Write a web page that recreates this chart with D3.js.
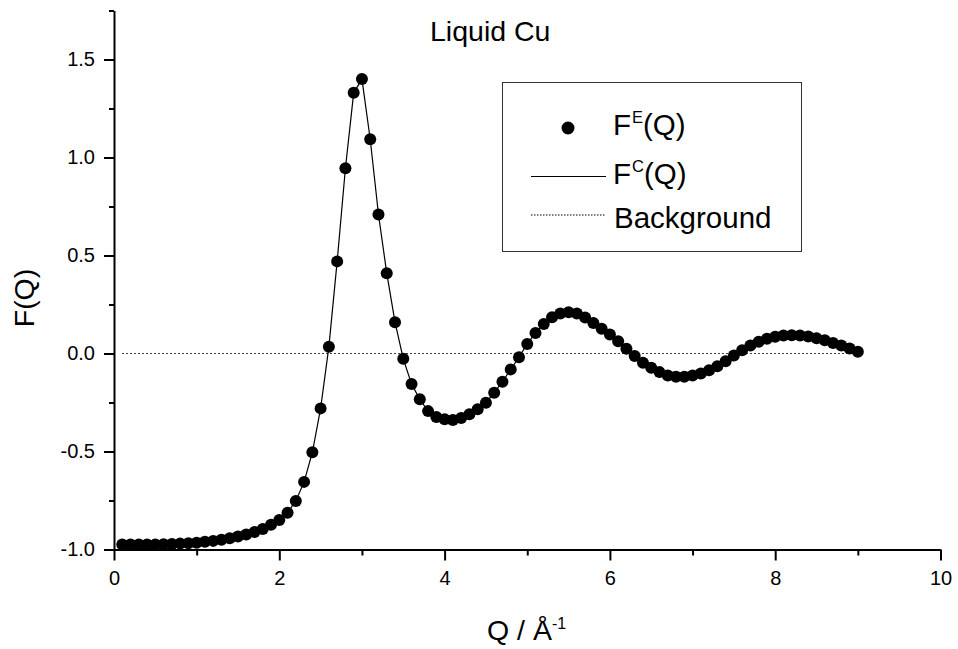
<!DOCTYPE html>
<html>
<head>
<meta charset="utf-8">
<script src="https://cdn.jsdelivr.net/npm/d3@7"></script>
<style>
  html, body { margin: 0; padding: 0; background: #fff; }
  svg { display: block; }
  text { font-family: "Liberation Sans", Arial, Helvetica, sans-serif; fill: #000; }
</style>
</head>
<body>
<svg id="chart" width="958" height="649"></svg>
<script>
// ---- data ----
const qValues = [0.1,0.2,0.3,0.4,0.5,0.6,0.7,0.8,0.9,1.0,
  1.1,1.2,1.3,1.4,1.5,1.6,1.7,1.8,1.9,2.0,
  2.1,2.2,2.3,2.4,2.5,2.6,2.7,2.8,2.9,3.0,
  3.1,3.2,3.3,3.4,3.5,3.6,3.7,3.8,3.9,4.0,
  4.1,4.2,4.3,4.4,4.5,4.6,4.7,4.8,4.9,5.0,
  5.1,5.2,5.3,5.4,5.5,5.6,5.7,5.8,5.9,6.0,
  6.1,6.2,6.3,6.4,6.5,6.6,6.7,6.8,6.9,7.0,
  7.1,7.2,7.3,7.4,7.5,7.6,7.7,7.8,7.9,8.0,
  8.1,8.2,8.3,8.4,8.5,8.6,8.7,8.8,8.9,9.0];
const fExperimental = [-0.975,-0.975,-0.975,-0.974,-0.974,-0.973,-0.972,-0.970,-0.968,-0.965,
  -0.961,-0.956,-0.950,-0.943,-0.934,-0.924,-0.911,-0.895,-0.874,-0.850,
  -0.812,-0.752,-0.655,-0.504,-0.280,0.035,0.470,0.945,1.330,1.400,
  1.093,0.709,0.410,0.160,-0.027,-0.156,-0.234,-0.294,-0.324,-0.336,
  -0.339,-0.329,-0.310,-0.285,-0.251,-0.200,-0.144,-0.081,-0.019,0.049,
  0.105,0.151,0.185,0.204,0.210,0.204,0.184,0.156,0.126,0.097,
  0.063,0.024,-0.013,-0.047,-0.073,-0.095,-0.112,-0.119,-0.119,-0.112,
  -0.102,-0.085,-0.065,-0.039,-0.010,0.017,0.041,0.060,0.075,0.085,
  0.092,0.093,0.092,0.087,0.078,0.068,0.054,0.041,0.025,0.009];
const fCalculated = fExperimental.slice(); // computed curve passes through the points
const backgroundValues = [0, 0];
const backgroundQ = [0.1, 9.0];
const xMajorTicks = [0, 2, 4, 6, 8, 10];
const xMinorTicks = [1, 3, 5, 7, 9];
const yMajorTicks = [-1.0, -0.5, 0.0, 0.5, 1.0, 1.5];
const yMinorTicks = [-0.75, -0.25, 0.25, 0.75, 1.25, 1.75];
const titleText = "Liquid Cu";
const yLabelText = "F(Q)";
const legendLabels = ["E", "C", "Background"];

// ---- layout ----
const svg = d3.select("#chart");
const x = d3.scaleLinear().domain([0, 10]).range([114, 940.5]);
const y = d3.scaleLinear().domain([-1, 1.75]).range([549.5, 10.5]);
const FONT = "'Liberation Sans', Arial, Helvetica, sans-serif";

// background dotted line
svg.append("line")
  .attr("x1", x(backgroundQ[0])).attr("x2", x(backgroundQ[1]))
  .attr("y1", y(backgroundValues[0])).attr("y2", y(backgroundValues[1]))
  .attr("stroke", "#000").attr("stroke-width", 1)
  .attr("stroke-dasharray", "1.5,2.5");

// calculated line
const pts = qValues.map((q, i) => [q, fCalculated[i]]);
svg.append("path")
  .datum(pts)
  .attr("fill", "none").attr("stroke", "#000").attr("stroke-width", 1.2)
  .attr("d", d3.line().x(d => x(d[0])).y(d => y(d[1])));

// experimental markers
svg.append("g").selectAll("circle")
  .data(qValues.map((q, i) => [q, fExperimental[i]]))
  .join("circle")
  .attr("cx", d => x(d[0])).attr("cy", d => y(d[1]))
  .attr("r", 6).attr("fill", "#000");

// axes
function styleAxis(g) {
  g.attr("font-family", null).attr("font-size", null);
  g.selectAll("path.domain").attr("stroke", "#000").attr("stroke-width", 2);
  g.selectAll(".tick line").attr("stroke", "#000").attr("stroke-width", 2);
  g.selectAll(".tick text").style("font-family", FONT).style("font-size", "20px").attr("fill", "#000");
}
const xAxisY = y(-1);
svg.append("g").attr("transform", `translate(0,${xAxisY})`)
  .call(d3.axisBottom(x).tickValues(xMinorTicks).tickSize(6).tickSizeOuter(0).tickFormat(""))
  .call(g => g.select("path.domain").remove())
  .call(styleAxis);
svg.append("g").attr("transform", `translate(0,${xAxisY})`)
  .call(d3.axisBottom(x).tickValues(xMajorTicks).tickSize(11).tickSizeOuter(0).tickPadding(10).tickFormat(d => String(d)))
  .call(styleAxis);

const yAxisX = x(0);
svg.append("g").attr("transform", `translate(${yAxisX},0)`)
  .call(d3.axisLeft(y).tickValues(yMinorTicks).tickSize(5).tickSizeOuter(0).tickFormat(""))
  .call(g => g.select("path.domain").remove())
  .call(styleAxis);
svg.append("g").attr("transform", `translate(${yAxisX},0)`)
  .call(d3.axisLeft(y).tickValues(yMajorTicks).tickSize(10).tickSizeOuter(0).tickPadding(9).tickFormat(d => d.toFixed(1)))
  .call(styleAxis);

// title
svg.append("text").attr("x", 430).attr("y", 41)
  .style("font-size", "28.5px").text(titleText);

// y label
svg.append("text")
  .attr("transform", "translate(34,298) rotate(-90)")
  .attr("text-anchor", "middle")
  .style("font-size", "28.5px").text(yLabelText);

// x label
const xl = svg.append("text").attr("x", 487).attr("y", 640).style("font-size", "28.5px");
xl.append("tspan").text("Q / Å");
xl.append("tspan").attr("dy", -11).style("font-size", "16px").text("-1");

// legend
const lg = svg.append("g");
lg.append("rect").attr("x", 502.5).attr("y", 82.5).attr("width", 299).attr("height", 169)
  .attr("fill", "#fff").attr("stroke", "#333").attr("stroke-width", 1);
lg.append("circle").attr("cx", 568).attr("cy", 128).attr("r", 6.5).attr("fill", "#000");
function fLabel(yb, sup) {
  const t = lg.append("text").attr("x", 613).attr("y", yb).style("font-size", "29.5px");
  t.append("tspan").text("F");
  t.append("tspan").attr("dy", -12).attr("dx", 1).style("font-size", "16.5px").text(sup);
  t.append("tspan").attr("dy", 12).text("(Q)");
}
fLabel(135, legendLabels[0]);
lg.append("line").attr("x1", 531).attr("x2", 606).attr("y1", 176.5).attr("y2", 176.5)
  .attr("stroke", "#000").attr("stroke-width", 1.2);
fLabel(184, legendLabels[1]);
lg.append("line").attr("x1", 531).attr("x2", 606).attr("y1", 215).attr("y2", 215)
  .attr("stroke", "#000").attr("stroke-width", 1).attr("stroke-dasharray", "1.5,1.5");
lg.append("text").attr("x", 614).attr("y", 228).style("font-size", "29.5px").text(legendLabels[2]);
</script>
</body>
</html>
